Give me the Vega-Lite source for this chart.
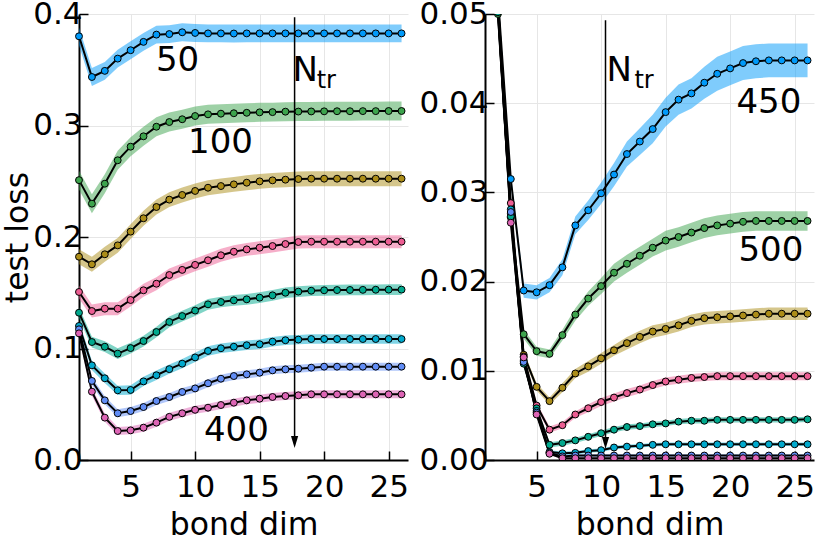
{
"$schema":"https://vega.github.io/schema/vega-lite/v6.json",
"background":"white",
"padding":{"left":2,"top":-2,"right":0,"bottom":0},
"spacing":9,
"config":{"view":{"stroke":null},"font":"DejaVu Sans",
"axis":{"domainColor":"black","domainWidth":2,"tickColor":"black","tickWidth":1.5,"tickSize":-9,"labelFontSize":31,"labelColor":"black","titleFontSize":31.5,"titleFontWeight":"normal","titleColor":"black","gridColor":"#e6e6e6","gridWidth":1,"labelFont":"DejaVu Sans","titleFont":"DejaVu Sans"},
"axisX":{"labelPadding":21,"titleY":49,"titleBaseline":"top"},
"axisY":{"labelPadding":6,"titleX":-45,"titleBaseline":"bottom","titleAngle":-90},
"text":{"font":"DejaVu Sans","color":"black"}},
"datasets":{
"curves":[
{"p":"L","n":50,"x":1,"y":0.380,"e":0.008},{"p":"L","n":50,"x":2,"y":0.3435,"e":0.008},{"p":"L","n":50,"x":3,"y":0.349,"e":0.008},{"p":"L","n":50,"x":4,"y":0.360,"e":0.008},{"p":"L","n":50,"x":5,"y":0.3675,"e":0.008},{"p":"L","n":50,"x":6,"y":0.375,"e":0.008},{"p":"L","n":50,"x":7,"y":0.3815,"e":0.008},{"p":"L","n":50,"x":8,"y":0.382,"e":0.008},{"p":"L","n":50,"x":9,"y":0.3836,"e":0.008},{"p":"L","n":50,"x":10,"y":0.383,"e":0.008},{"p":"L","n":50,"x":11,"y":0.3826,"e":0.008},{"p":"L","n":50,"x":12,"y":0.3826,"e":0.008},{"p":"L","n":50,"x":13,"y":0.3825,"e":0.008},{"p":"L","n":50,"x":14,"y":0.3826,"e":0.008},{"p":"L","n":50,"x":15,"y":0.3826,"e":0.008},{"p":"L","n":50,"x":16,"y":0.3826,"e":0.008},{"p":"L","n":50,"x":17,"y":0.3826,"e":0.008},{"p":"L","n":50,"x":18,"y":0.3826,"e":0.008},{"p":"L","n":50,"x":19,"y":0.3826,"e":0.008},{"p":"L","n":50,"x":20,"y":0.3826,"e":0.008},{"p":"L","n":50,"x":21,"y":0.3826,"e":0.008},{"p":"L","n":50,"x":22,"y":0.3826,"e":0.008},{"p":"L","n":50,"x":23,"y":0.3826,"e":0.008},{"p":"L","n":50,"x":24,"y":0.3826,"e":0.008},{"p":"L","n":50,"x":25,"y":0.3826,"e":0.008},{"p":"L","n":50,"x":26,"y":0.3826,"e":0.008},
{"p":"L","n":100,"x":1,"y":0.251,"e":0.0085},{"p":"L","n":100,"x":2,"y":0.2299,"e":0.0085},{"p":"L","n":100,"x":3,"y":0.2478,"e":0.0085},{"p":"L","n":100,"x":4,"y":0.2688,"e":0.0085},{"p":"L","n":100,"x":5,"y":0.281,"e":0.0085},{"p":"L","n":100,"x":6,"y":0.2903,"e":0.0085},{"p":"L","n":100,"x":7,"y":0.2989,"e":0.0085},{"p":"L","n":100,"x":8,"y":0.3031,"e":0.0085},{"p":"L","n":100,"x":9,"y":0.3056,"e":0.0085},{"p":"L","n":100,"x":10,"y":0.3085,"e":0.0085},{"p":"L","n":100,"x":11,"y":0.310,"e":0.0085},{"p":"L","n":100,"x":12,"y":0.3106,"e":0.0085},{"p":"L","n":100,"x":13,"y":0.311,"e":0.0085},{"p":"L","n":100,"x":14,"y":0.3114,"e":0.0085},{"p":"L","n":100,"x":15,"y":0.3118,"e":0.0085},{"p":"L","n":100,"x":16,"y":0.312,"e":0.0085},{"p":"L","n":100,"x":17,"y":0.3124,"e":0.0085},{"p":"L","n":100,"x":18,"y":0.3125,"e":0.0085},{"p":"L","n":100,"x":19,"y":0.3126,"e":0.0085},{"p":"L","n":100,"x":20,"y":0.3127,"e":0.0085},{"p":"L","n":100,"x":21,"y":0.3128,"e":0.0085},{"p":"L","n":100,"x":22,"y":0.3128,"e":0.0085},{"p":"L","n":100,"x":23,"y":0.3129,"e":0.0085},{"p":"L","n":100,"x":24,"y":0.3129,"e":0.0085},{"p":"L","n":100,"x":25,"y":0.313,"e":0.0085},{"p":"L","n":100,"x":26,"y":0.313,"e":0.0085},
{"p":"L","n":150,"x":1,"y":0.1823,"e":0.0067},{"p":"L","n":150,"x":2,"y":0.1755,"e":0.0067},{"p":"L","n":150,"x":3,"y":0.1845,"e":0.0067},{"p":"L","n":150,"x":4,"y":0.1925,"e":0.0067},{"p":"L","n":150,"x":5,"y":0.2048,"e":0.0067},{"p":"L","n":150,"x":6,"y":0.2168,"e":0.0067},{"p":"L","n":150,"x":7,"y":0.2269,"e":0.0067},{"p":"L","n":150,"x":8,"y":0.2335,"e":0.0067},{"p":"L","n":150,"x":9,"y":0.2377,"e":0.0067},{"p":"L","n":150,"x":10,"y":0.2413,"e":0.0067},{"p":"L","n":150,"x":11,"y":0.2442,"e":0.0067},{"p":"L","n":150,"x":12,"y":0.2457,"e":0.0067},{"p":"L","n":150,"x":13,"y":0.2472,"e":0.0067},{"p":"L","n":150,"x":14,"y":0.2487,"e":0.0067},{"p":"L","n":150,"x":15,"y":0.2499,"e":0.0067},{"p":"L","n":150,"x":16,"y":0.2508,"e":0.0067},{"p":"L","n":150,"x":17,"y":0.2514,"e":0.0067},{"p":"L","n":150,"x":18,"y":0.252,"e":0.0067},{"p":"L","n":150,"x":19,"y":0.2523,"e":0.0067},{"p":"L","n":150,"x":20,"y":0.2523,"e":0.0067},{"p":"L","n":150,"x":21,"y":0.2523,"e":0.0067},{"p":"L","n":150,"x":22,"y":0.2523,"e":0.0067},{"p":"L","n":150,"x":23,"y":0.2523,"e":0.0067},{"p":"L","n":150,"x":24,"y":0.2523,"e":0.0067},{"p":"L","n":150,"x":25,"y":0.2523,"e":0.0067},{"p":"L","n":150,"x":26,"y":0.2523,"e":0.0067},
{"p":"L","n":200,"x":1,"y":0.1507,"e":0.0058},{"p":"L","n":200,"x":2,"y":0.1336,"e":0.0058},{"p":"L","n":200,"x":3,"y":0.1357,"e":0.0058},{"p":"L","n":200,"x":4,"y":0.1357,"e":0.0058},{"p":"L","n":200,"x":5,"y":0.1435,"e":0.0058},{"p":"L","n":200,"x":6,"y":0.1522,"e":0.0058},{"p":"L","n":200,"x":7,"y":0.1581,"e":0.0058},{"p":"L","n":200,"x":8,"y":0.1659,"e":0.0058},{"p":"L","n":200,"x":9,"y":0.1705,"e":0.0058},{"p":"L","n":200,"x":10,"y":0.1750,"e":0.0058},{"p":"L","n":200,"x":11,"y":0.1791,"e":0.0058},{"p":"L","n":200,"x":12,"y":0.1836,"e":0.0058},{"p":"L","n":200,"x":13,"y":0.1868,"e":0.0058},{"p":"L","n":200,"x":14,"y":0.1889,"e":0.0058},{"p":"L","n":200,"x":15,"y":0.1904,"e":0.0058},{"p":"L","n":200,"x":16,"y":0.1919,"e":0.0058},{"p":"L","n":200,"x":17,"y":0.1937,"e":0.0058},{"p":"L","n":200,"x":18,"y":0.1955,"e":0.0058},{"p":"L","n":200,"x":19,"y":0.1958,"e":0.0058},{"p":"L","n":200,"x":20,"y":0.1958,"e":0.0058},{"p":"L","n":200,"x":21,"y":0.1958,"e":0.0058},{"p":"L","n":200,"x":22,"y":0.1958,"e":0.0058},{"p":"L","n":200,"x":23,"y":0.1958,"e":0.0058},{"p":"L","n":200,"x":24,"y":0.1958,"e":0.0058},{"p":"L","n":200,"x":25,"y":0.1958,"e":0.0058},{"p":"L","n":200,"x":26,"y":0.1958,"e":0.0058},
{"p":"L","n":250,"x":1,"y":0.1321,"e":0.0048},{"p":"L","n":250,"x":2,"y":0.1058,"e":0.0048},{"p":"L","n":250,"x":3,"y":0.1016,"e":0.0048},{"p":"L","n":250,"x":4,"y":0.0954,"e":0.0048},{"p":"L","n":250,"x":5,"y":0.1004,"e":0.0048},{"p":"L","n":250,"x":6,"y":0.1067,"e":0.0048},{"p":"L","n":250,"x":7,"y":0.1148,"e":0.0048},{"p":"L","n":250,"x":8,"y":0.1238,"e":0.0048},{"p":"L","n":250,"x":9,"y":0.1291,"e":0.0048},{"p":"L","n":250,"x":10,"y":0.1340,"e":0.0048},{"p":"L","n":250,"x":11,"y":0.1396,"e":0.0048},{"p":"L","n":250,"x":12,"y":0.1417,"e":0.0048},{"p":"L","n":250,"x":13,"y":0.1432,"e":0.0048},{"p":"L","n":250,"x":14,"y":0.1441,"e":0.0048},{"p":"L","n":250,"x":15,"y":0.1456,"e":0.0048},{"p":"L","n":250,"x":16,"y":0.1477,"e":0.0048},{"p":"L","n":250,"x":17,"y":0.1500,"e":0.0048},{"p":"L","n":250,"x":18,"y":0.1510,"e":0.0048},{"p":"L","n":250,"x":19,"y":0.1518,"e":0.0048},{"p":"L","n":250,"x":20,"y":0.1522,"e":0.0048},{"p":"L","n":250,"x":21,"y":0.1524,"e":0.0048},{"p":"L","n":250,"x":22,"y":0.1525,"e":0.0048},{"p":"L","n":250,"x":23,"y":0.1526,"e":0.0048},{"p":"L","n":250,"x":24,"y":0.1527,"e":0.0048},{"p":"L","n":250,"x":25,"y":0.1528,"e":0.0048},{"p":"L","n":250,"x":26,"y":0.1528,"e":0.0048},
{"p":"L","n":300,"x":1,"y":0.1202,"e":0.0042},{"p":"L","n":300,"x":2,"y":0.0849,"e":0.0042},{"p":"L","n":300,"x":3,"y":0.0733,"e":0.0042},{"p":"L","n":300,"x":4,"y":0.0625,"e":0.0042},{"p":"L","n":300,"x":5,"y":0.0628,"e":0.0042},{"p":"L","n":300,"x":6,"y":0.0705,"e":0.0042},{"p":"L","n":300,"x":7,"y":0.0760,"e":0.0042},{"p":"L","n":300,"x":8,"y":0.0815,"e":0.0042},{"p":"L","n":300,"x":9,"y":0.0864,"e":0.0042},{"p":"L","n":300,"x":10,"y":0.0920,"e":0.0042},{"p":"L","n":300,"x":11,"y":0.0978,"e":0.0042},{"p":"L","n":300,"x":12,"y":0.1002,"e":0.0042},{"p":"L","n":300,"x":13,"y":0.1016,"e":0.0042},{"p":"L","n":300,"x":14,"y":0.1029,"e":0.0042},{"p":"L","n":300,"x":15,"y":0.1038,"e":0.0042},{"p":"L","n":300,"x":16,"y":0.1061,"e":0.0042},{"p":"L","n":300,"x":17,"y":0.1074,"e":0.0042},{"p":"L","n":300,"x":18,"y":0.1080,"e":0.0042},{"p":"L","n":300,"x":19,"y":0.1085,"e":0.0042},{"p":"L","n":300,"x":20,"y":0.1085,"e":0.0042},{"p":"L","n":300,"x":21,"y":0.1085,"e":0.0042},{"p":"L","n":300,"x":22,"y":0.1085,"e":0.0042},{"p":"L","n":300,"x":23,"y":0.1085,"e":0.0042},{"p":"L","n":300,"x":24,"y":0.1085,"e":0.0042},{"p":"L","n":300,"x":25,"y":0.1085,"e":0.0042},{"p":"L","n":300,"x":26,"y":0.1085,"e":0.0042},
{"p":"L","n":350,"x":1,"y":0.1172,"e":0.0036},{"p":"L","n":350,"x":2,"y":0.0709,"e":0.0036},{"p":"L","n":350,"x":3,"y":0.0535,"e":0.0036},{"p":"L","n":350,"x":4,"y":0.0419,"e":0.0036},{"p":"L","n":350,"x":5,"y":0.0439,"e":0.0036},{"p":"L","n":350,"x":6,"y":0.0475,"e":0.0036},{"p":"L","n":350,"x":7,"y":0.0529,"e":0.0036},{"p":"L","n":350,"x":8,"y":0.0565,"e":0.0036},{"p":"L","n":350,"x":9,"y":0.0610,"e":0.0036},{"p":"L","n":350,"x":10,"y":0.0642,"e":0.0036},{"p":"L","n":350,"x":11,"y":0.0688,"e":0.0036},{"p":"L","n":350,"x":12,"y":0.0729,"e":0.0036},{"p":"L","n":350,"x":13,"y":0.0753,"e":0.0036},{"p":"L","n":350,"x":14,"y":0.0768,"e":0.0036},{"p":"L","n":350,"x":15,"y":0.0783,"e":0.0036},{"p":"L","n":350,"x":16,"y":0.0804,"e":0.0036},{"p":"L","n":350,"x":17,"y":0.0813,"e":0.0036},{"p":"L","n":350,"x":18,"y":0.0819,"e":0.0036},{"p":"L","n":350,"x":19,"y":0.0828,"e":0.0036},{"p":"L","n":350,"x":20,"y":0.0837,"e":0.0036},{"p":"L","n":350,"x":21,"y":0.0837,"e":0.0036},{"p":"L","n":350,"x":22,"y":0.0837,"e":0.0036},{"p":"L","n":350,"x":23,"y":0.0837,"e":0.0036},{"p":"L","n":350,"x":24,"y":0.0837,"e":0.0036},{"p":"L","n":350,"x":25,"y":0.0837,"e":0.0036},{"p":"L","n":350,"x":26,"y":0.0837,"e":0.0036},
{"p":"L","n":400,"x":1,"y":0.1136,"e":0.0036},{"p":"L","n":400,"x":2,"y":0.0613,"e":0.0036},{"p":"L","n":400,"x":3,"y":0.0380,"e":0.0036},{"p":"L","n":400,"x":4,"y":0.0260,"e":0.0036},{"p":"L","n":400,"x":5,"y":0.0266,"e":0.0036},{"p":"L","n":400,"x":6,"y":0.0290,"e":0.0036},{"p":"L","n":400,"x":7,"y":0.0335,"e":0.0036},{"p":"L","n":400,"x":8,"y":0.0387,"e":0.0036},{"p":"L","n":400,"x":9,"y":0.0419,"e":0.0036},{"p":"L","n":400,"x":10,"y":0.0450,"e":0.0036},{"p":"L","n":400,"x":11,"y":0.0469,"e":0.0036},{"p":"L","n":400,"x":12,"y":0.0493,"e":0.0036},{"p":"L","n":400,"x":13,"y":0.0514,"e":0.0036},{"p":"L","n":400,"x":14,"y":0.0535,"e":0.0036},{"p":"L","n":400,"x":15,"y":0.0550,"e":0.0036},{"p":"L","n":400,"x":16,"y":0.0565,"e":0.0036},{"p":"L","n":400,"x":17,"y":0.0574,"e":0.0036},{"p":"L","n":400,"x":18,"y":0.0580,"e":0.0036},{"p":"L","n":400,"x":19,"y":0.0589,"e":0.0036},{"p":"L","n":400,"x":20,"y":0.0589,"e":0.0036},{"p":"L","n":400,"x":21,"y":0.0589,"e":0.0036},{"p":"L","n":400,"x":22,"y":0.0589,"e":0.0036},{"p":"L","n":400,"x":23,"y":0.0589,"e":0.0036},{"p":"L","n":400,"x":24,"y":0.0589,"e":0.0036},{"p":"L","n":400,"x":25,"y":0.0589,"e":0.0036},{"p":"L","n":400,"x":26,"y":0.0589,"e":0.0036},
{"p":"R","n":450,"x":1,"y":0.09,"e":0.0006},{"p":"R","n":450,"x":2,"y":0.052,"e":0.0006},{"p":"R","n":450,"x":3,"y":0.0315,"e":0.0006},{"p":"R","n":450,"x":4,"y":0.0190,"e":0.0008},{"p":"R","n":450,"x":5,"y":0.0188,"e":0.0008},{"p":"R","n":450,"x":6,"y":0.0196,"e":0.0008},{"p":"R","n":450,"x":7,"y":0.0216,"e":0.0009},{"p":"R","n":450,"x":8,"y":0.0263,"e":0.001},{"p":"R","n":450,"x":9,"y":0.0280,"e":0.0011},{"p":"R","n":450,"x":10,"y":0.0299,"e":0.0012},{"p":"R","n":450,"x":11,"y":0.0320,"e":0.0013},{"p":"R","n":450,"x":12,"y":0.0343,"e":0.0014},{"p":"R","n":450,"x":13,"y":0.0357,"e":0.0015},{"p":"R","n":450,"x":14,"y":0.0371,"e":0.0016},{"p":"R","n":450,"x":15,"y":0.0390,"e":0.0016},{"p":"R","n":450,"x":16,"y":0.0404,"e":0.0017},{"p":"R","n":450,"x":17,"y":0.0411,"e":0.0017},{"p":"R","n":450,"x":18,"y":0.0423,"e":0.0018},{"p":"R","n":450,"x":19,"y":0.0433,"e":0.0019},{"p":"R","n":450,"x":20,"y":0.0439,"e":0.0019},{"p":"R","n":450,"x":21,"y":0.0445,"e":0.0019},{"p":"R","n":450,"x":22,"y":0.0447,"e":0.0019},{"p":"R","n":450,"x":23,"y":0.0448,"e":0.0019},{"p":"R","n":450,"x":24,"y":0.0448,"e":0.0019},{"p":"R","n":450,"x":25,"y":0.0448,"e":0.0019},{"p":"R","n":450,"x":26,"y":0.0448,"e":0.0019},
{"p":"R","n":500,"x":1,"y":0.09,"e":0.0005},{"p":"R","n":500,"x":2,"y":0.0500,"e":0.0005},{"p":"R","n":500,"x":3,"y":0.0272,"e":0.0005},{"p":"R","n":500,"x":4,"y":0.0141,"e":0.0005},{"p":"R","n":500,"x":5,"y":0.0122,"e":0.0005},{"p":"R","n":500,"x":6,"y":0.0119,"e":0.0005},{"p":"R","n":500,"x":7,"y":0.0140,"e":0.0006},{"p":"R","n":500,"x":8,"y":0.0163,"e":0.0007},{"p":"R","n":500,"x":9,"y":0.0181,"e":0.0008},{"p":"R","n":500,"x":10,"y":0.0195,"e":0.0009},{"p":"R","n":500,"x":11,"y":0.0210,"e":0.001},{"p":"R","n":500,"x":12,"y":0.0220,"e":0.001},{"p":"R","n":500,"x":13,"y":0.0229,"e":0.001},{"p":"R","n":500,"x":14,"y":0.0238,"e":0.001},{"p":"R","n":500,"x":15,"y":0.0246,"e":0.0011},{"p":"R","n":500,"x":16,"y":0.0250,"e":0.0011},{"p":"R","n":500,"x":17,"y":0.0255,"e":0.0011},{"p":"R","n":500,"x":18,"y":0.0260,"e":0.0011},{"p":"R","n":500,"x":19,"y":0.0263,"e":0.0011},{"p":"R","n":500,"x":20,"y":0.0265,"e":0.0011},{"p":"R","n":500,"x":21,"y":0.0267,"e":0.0011},{"p":"R","n":500,"x":22,"y":0.0268,"e":0.0011},{"p":"R","n":500,"x":23,"y":0.0268,"e":0.0011},{"p":"R","n":500,"x":24,"y":0.0268,"e":0.0011},{"p":"R","n":500,"x":25,"y":0.0268,"e":0.0011},{"p":"R","n":500,"x":26,"y":0.0268,"e":0.0011},
{"p":"R","n":550,"x":1,"y":0.09,"e":0.0004},{"p":"R","n":550,"x":2,"y":0.0508,"e":0.0004},{"p":"R","n":550,"x":3,"y":0.0276,"e":0.0004},{"p":"R","n":550,"x":4,"y":0.0118,"e":0.0004},{"p":"R","n":550,"x":5,"y":0.0082,"e":0.0004},{"p":"R","n":550,"x":6,"y":0.0066,"e":0.0004},{"p":"R","n":550,"x":7,"y":0.0081,"e":0.0005},{"p":"R","n":550,"x":8,"y":0.0097,"e":0.0005},{"p":"R","n":550,"x":9,"y":0.0105,"e":0.0006},{"p":"R","n":550,"x":10,"y":0.0114,"e":0.0006},{"p":"R","n":550,"x":11,"y":0.0123,"e":0.0006},{"p":"R","n":550,"x":12,"y":0.0131,"e":0.0007},{"p":"R","n":550,"x":13,"y":0.0138,"e":0.0007},{"p":"R","n":550,"x":14,"y":0.0144,"e":0.0007},{"p":"R","n":550,"x":15,"y":0.0147,"e":0.0007},{"p":"R","n":550,"x":16,"y":0.0151,"e":0.0007},{"p":"R","n":550,"x":17,"y":0.0156,"e":0.0007},{"p":"R","n":550,"x":18,"y":0.0159,"e":0.0007},{"p":"R","n":550,"x":19,"y":0.0160,"e":0.0007},{"p":"R","n":550,"x":20,"y":0.0161,"e":0.0007},{"p":"R","n":550,"x":21,"y":0.0162,"e":0.0007},{"p":"R","n":550,"x":22,"y":0.0163,"e":0.0007},{"p":"R","n":550,"x":23,"y":0.0164,"e":0.0007},{"p":"R","n":550,"x":24,"y":0.0164,"e":0.0007},{"p":"R","n":550,"x":25,"y":0.0164,"e":0.0007},{"p":"R","n":550,"x":26,"y":0.0164,"e":0.0007},
{"p":"R","n":600,"x":1,"y":0.09,"e":0.00035},{"p":"R","n":600,"x":2,"y":0.0512,"e":0.00035},{"p":"R","n":600,"x":3,"y":0.0288,"e":0.00035},{"p":"R","n":600,"x":4,"y":0.0116,"e":0.00035},{"p":"R","n":600,"x":5,"y":0.0061,"e":0.00035},{"p":"R","n":600,"x":6,"y":0.0034,"e":0.00035},{"p":"R","n":600,"x":7,"y":0.0039,"e":0.00035},{"p":"R","n":600,"x":8,"y":0.0051,"e":0.00035},{"p":"R","n":600,"x":9,"y":0.0058,"e":0.00045},{"p":"R","n":600,"x":10,"y":0.0065,"e":0.00045},{"p":"R","n":600,"x":11,"y":0.0070,"e":0.00045},{"p":"R","n":600,"x":12,"y":0.0075,"e":0.00045},{"p":"R","n":600,"x":13,"y":0.0079,"e":0.00045},{"p":"R","n":600,"x":14,"y":0.0084,"e":0.00045},{"p":"R","n":600,"x":15,"y":0.0088,"e":0.00045},{"p":"R","n":600,"x":16,"y":0.0090,"e":0.00045},{"p":"R","n":600,"x":17,"y":0.0092,"e":0.00045},{"p":"R","n":600,"x":18,"y":0.0093,"e":0.00045},{"p":"R","n":600,"x":19,"y":0.0094,"e":0.00045},{"p":"R","n":600,"x":20,"y":0.0094,"e":0.00045},{"p":"R","n":600,"x":21,"y":0.0094,"e":0.00045},{"p":"R","n":600,"x":22,"y":0.0094,"e":0.00045},{"p":"R","n":600,"x":23,"y":0.0094,"e":0.00045},{"p":"R","n":600,"x":24,"y":0.0094,"e":0.00045},{"p":"R","n":600,"x":25,"y":0.0094,"e":0.00045},{"p":"R","n":600,"x":26,"y":0.0094,"e":0.00045},
{"p":"R","n":650,"x":1,"y":0.09,"e":0.0003},{"p":"R","n":650,"x":2,"y":0.0502,"e":0.0003},{"p":"R","n":650,"x":3,"y":0.0273,"e":0.0003},{"p":"R","n":650,"x":4,"y":0.0108,"e":0.0003},{"p":"R","n":650,"x":5,"y":0.0058,"e":0.0003},{"p":"R","n":650,"x":6,"y":0.0017,"e":0.0003},{"p":"R","n":650,"x":7,"y":0.0019,"e":0.0003},{"p":"R","n":650,"x":8,"y":0.0022,"e":0.0003},{"p":"R","n":650,"x":9,"y":0.0026,"e":0.0003},{"p":"R","n":650,"x":10,"y":0.0030,"e":0.0003},{"p":"R","n":650,"x":11,"y":0.0034,"e":0.0003},{"p":"R","n":650,"x":12,"y":0.0037,"e":0.0003},{"p":"R","n":650,"x":13,"y":0.0038,"e":0.0003},{"p":"R","n":650,"x":14,"y":0.0040,"e":0.0003},{"p":"R","n":650,"x":15,"y":0.0041,"e":0.0003},{"p":"R","n":650,"x":16,"y":0.0043,"e":0.0003},{"p":"R","n":650,"x":17,"y":0.0044,"e":0.0003},{"p":"R","n":650,"x":18,"y":0.0044,"e":0.0003},{"p":"R","n":650,"x":19,"y":0.0045,"e":0.0003},{"p":"R","n":650,"x":20,"y":0.0045,"e":0.0003},{"p":"R","n":650,"x":21,"y":0.0045,"e":0.0003},{"p":"R","n":650,"x":22,"y":0.0045,"e":0.0003},{"p":"R","n":650,"x":23,"y":0.0045,"e":0.0003},{"p":"R","n":650,"x":24,"y":0.0045,"e":0.0003},{"p":"R","n":650,"x":25,"y":0.0045,"e":0.0003},{"p":"R","n":650,"x":26,"y":0.00456,"e":0.0003},
{"p":"R","n":700,"x":1,"y":0.09,"e":0.0002},{"p":"R","n":700,"x":2,"y":0.0515,"e":0.0002},{"p":"R","n":700,"x":3,"y":0.0281,"e":0.0002},{"p":"R","n":700,"x":4,"y":0.0112,"e":0.0002},{"p":"R","n":700,"x":5,"y":0.0055,"e":0.0002},{"p":"R","n":700,"x":6,"y":0.0009,"e":0.0002},{"p":"R","n":700,"x":7,"y":0.00075,"e":0.0002},{"p":"R","n":700,"x":8,"y":0.0008,"e":0.0002},{"p":"R","n":700,"x":9,"y":0.0010,"e":0.0002},{"p":"R","n":700,"x":10,"y":0.0011,"e":0.0002},{"p":"R","n":700,"x":11,"y":0.0014,"e":0.0002},{"p":"R","n":700,"x":12,"y":0.0015,"e":0.0002},{"p":"R","n":700,"x":13,"y":0.0016,"e":0.0002},{"p":"R","n":700,"x":14,"y":0.0017,"e":0.0002},{"p":"R","n":700,"x":15,"y":0.00176,"e":0.0002},{"p":"R","n":700,"x":16,"y":0.00176,"e":0.0002},{"p":"R","n":700,"x":17,"y":0.00176,"e":0.0002},{"p":"R","n":700,"x":18,"y":0.00176,"e":0.0002},{"p":"R","n":700,"x":19,"y":0.00176,"e":0.0002},{"p":"R","n":700,"x":20,"y":0.00176,"e":0.0002},{"p":"R","n":700,"x":21,"y":0.00176,"e":0.0002},{"p":"R","n":700,"x":22,"y":0.00176,"e":0.0002},{"p":"R","n":700,"x":23,"y":0.00176,"e":0.0002},{"p":"R","n":700,"x":24,"y":0.00176,"e":0.0002},{"p":"R","n":700,"x":25,"y":0.00176,"e":0.0002},{"p":"R","n":700,"x":26,"y":0.00176,"e":0.0002},
{"p":"R","n":750,"x":1,"y":0.09,"e":0.00015},{"p":"R","n":750,"x":2,"y":0.0505,"e":0.00015},{"p":"R","n":750,"x":3,"y":0.0278,"e":0.00015},{"p":"R","n":750,"x":4,"y":0.0110,"e":0.00015},{"p":"R","n":750,"x":5,"y":0.0053,"e":0.00015},{"p":"R","n":750,"x":6,"y":0.0008,"e":0.00015},{"p":"R","n":750,"x":7,"y":0.0004,"e":0.00015},{"p":"R","n":750,"x":8,"y":0.0005,"e":0.00015},{"p":"R","n":750,"x":9,"y":0.0005,"e":0.00015},{"p":"R","n":750,"x":10,"y":0.0005,"e":0.00015},{"p":"R","n":750,"x":11,"y":0.0005,"e":0.00015},{"p":"R","n":750,"x":12,"y":0.0005,"e":0.00015},{"p":"R","n":750,"x":13,"y":0.0005,"e":0.00015},{"p":"R","n":750,"x":14,"y":0.0005,"e":0.00015},{"p":"R","n":750,"x":15,"y":0.0005,"e":0.00015},{"p":"R","n":750,"x":16,"y":0.0005,"e":0.00015},{"p":"R","n":750,"x":17,"y":0.0005,"e":0.00015},{"p":"R","n":750,"x":18,"y":0.0005,"e":0.00015},{"p":"R","n":750,"x":19,"y":0.0005,"e":0.00015},{"p":"R","n":750,"x":20,"y":0.0005,"e":0.00015},{"p":"R","n":750,"x":21,"y":0.0005,"e":0.00015},{"p":"R","n":750,"x":22,"y":0.0005,"e":0.00015},{"p":"R","n":750,"x":23,"y":0.0005,"e":0.00015},{"p":"R","n":750,"x":24,"y":0.0005,"e":0.00015},{"p":"R","n":750,"x":25,"y":0.0005,"e":0.00015},{"p":"R","n":750,"x":26,"y":0.0005,"e":0.00015},
{"p":"R","n":800,"x":1,"y":0.09,"e":0.00012},{"p":"R","n":800,"x":2,"y":0.0510,"e":0.00012},{"p":"R","n":800,"x":3,"y":0.0266,"e":0.00012},{"p":"R","n":800,"x":4,"y":0.0115,"e":0.00012},{"p":"R","n":800,"x":5,"y":0.0051,"e":0.00012},{"p":"R","n":800,"x":6,"y":0.0007,"e":0.00012},{"p":"R","n":800,"x":7,"y":0.0002,"e":0.00012},{"p":"R","n":800,"x":8,"y":0.0002,"e":0.00012},{"p":"R","n":800,"x":9,"y":0.0002,"e":0.00012},{"p":"R","n":800,"x":10,"y":0.0002,"e":0.00012},{"p":"R","n":800,"x":11,"y":0.0002,"e":0.00012},{"p":"R","n":800,"x":12,"y":0.0002,"e":0.00012},{"p":"R","n":800,"x":13,"y":0.0002,"e":0.00012},{"p":"R","n":800,"x":14,"y":0.0002,"e":0.00012},{"p":"R","n":800,"x":15,"y":0.0002,"e":0.00012},{"p":"R","n":800,"x":16,"y":0.0002,"e":0.00012},{"p":"R","n":800,"x":17,"y":0.0002,"e":0.00012},{"p":"R","n":800,"x":18,"y":0.0002,"e":0.00012},{"p":"R","n":800,"x":19,"y":0.0002,"e":0.00012},{"p":"R","n":800,"x":20,"y":0.0002,"e":0.00012},{"p":"R","n":800,"x":21,"y":0.0002,"e":0.00012},{"p":"R","n":800,"x":22,"y":0.0002,"e":0.00012},{"p":"R","n":800,"x":23,"y":0.0002,"e":0.00012},{"p":"R","n":800,"x":24,"y":0.0002,"e":0.00012},{"p":"R","n":800,"x":25,"y":0.0002,"e":0.00012},{"p":"R","n":800,"x":26,"y":0.0002,"e":0.00012}
],
"labels":[{"p":"L","x":8.64,"y":0.3489,"t":"50"},{"p":"L","x":11.97,"y":0.2753,"t":"100"},{"p":"L","x":13.2,"y":0.017,"t":"400"},{"p":"R","x":23.0,"y":0.0389,"t":"450"},{"p":"R","x":23.16,"y":0.0223,"t":"500"}],
"ntrN":[{"p":"L","x":17.55,"y":0.340,"t":"N"},{"p":"R","x":10.42,"y":0.0425,"t":"N"}],
"ntrSub":[{"p":"L","x":19.42,"y":0.3336,"t":"tr"},{"p":"R","x":12.58,"y":0.0417,"t":"tr"}],
"arrows":[{"p":"L","x":17.71,"y":0.397,"y2":0.0161},{"p":"R","x":10.34,"y":0.0493,"y2":0.0019}],
"tips":[{"p":"L","x":17.71,"y":0.0161},{"p":"R","x":10.34,"y":0.0019}]
},
"hconcat":[
{"width":329,"height":446,
"encoding":{
"x":{"field":"x","type":"quantitative","scale":{"domain":[1,26.5],"nice":false,"zero":false},"axis":{"values":[5,10,15,20,25],"title":"bond dim"}},
"y":{"field":"y","type":"quantitative","scale":{"domain":[0,0.4],"nice":false},"axis":{"values":[0,0.1,0.2,0.3,0.4],"format":".1f","title":"test loss"}}},
"layer":[
{"data":{"name":"curves"},"transform":[{"filter":"datum.p=='L'"}],"mark":{"type":"errorband","band":{"opacity":0.5}},"encoding":{"yError":{"field":"e"},"color":{"field":"n","type":"nominal","legend":null,"scale":{"domain":[50,100,150,200,250,300,350,400,450,500,550,600,650,700,750,800],"range":["#009afa","#3da44d","#ac8d18","#ed5e93","#00a98d","#00a9cd","#618df6","#dd64b5","#009afa","#3da44d","#ac8d18","#ed5e93","#00a98d","#00a9cd","#618df6","#dd64b5"]}}}},
{"data":{"name":"curves"},"transform":[{"filter":"datum.p=='L'"}],"mark":{"type":"line","color":"black","strokeWidth":2},"encoding":{"detail":{"field":"n","type":"nominal"}}},
{"data":{"name":"curves"},"transform":[{"filter":"datum.p=='L'"}],"mark":{"type":"point","filled":true,"stroke":"black","strokeWidth":1,"size":48,"opacity":1},"encoding":{"fill":{"field":"n","type":"nominal","legend":null,"scale":{"domain":[50,100,150,200,250,300,350,400,450,500,550,600,650,700,750,800],"range":["#009afa","#3da44d","#ac8d18","#ed5e93","#00a98d","#00a9cd","#618df6","#dd64b5","#009afa","#3da44d","#ac8d18","#ed5e93","#00a98d","#00a9cd","#618df6","#dd64b5"]}}}},
{"data":{"name":"arrows"},"transform":[{"filter":"datum.p=='L'"}],"mark":{"type":"rule","color":"black","strokeWidth":1.5},"encoding":{"y2":{"field":"y2"}}},
{"data":{"name":"tips"},"transform":[{"filter":"datum.p=='L'"}],"mark":{"type":"point","shape":"M -0.6 -1 L 0.6 -1 L 0 1 Z","filled":true,"color":"black","size":144,"opacity":1},"encoding":{}},
{"data":{"name":"labels"},"transform":[{"filter":"datum.p=='L'"}],"mark":{"type":"text","fontSize":34,"align":"center","baseline":"alphabetic"},"encoding":{"text":{"field":"t"}}},
{"data":{"name":"ntrN"},"transform":[{"filter":"datum.p=='L'"}],"mark":{"type":"text","fontSize":34,"align":"left","baseline":"alphabetic"},"encoding":{"text":{"field":"t"}}},
{"data":{"name":"ntrSub"},"transform":[{"filter":"datum.p=='L'"}],"mark":{"type":"text","fontSize":24,"align":"left","baseline":"alphabetic"},"encoding":{"text":{"field":"t"}}}
]},
{"width":329,"height":446,
"encoding":{
"x":{"field":"x","type":"quantitative","scale":{"domain":[1,26.5],"nice":false,"zero":false},"axis":{"values":[5,10,15,20,25],"title":"bond dim"}},
"y":{"field":"y","type":"quantitative","scale":{"domain":[0,0.05],"nice":false},"axis":{"values":[0,0.01,0.02,0.03,0.04,0.05],"format":".2f","title":null}}},
"layer":[
{"data":{"name":"curves"},"transform":[{"filter":"datum.p=='R'"}],"mark":{"type":"errorband","band":{"opacity":0.5},"clip":true},"encoding":{"yError":{"field":"e"},"color":{"field":"n","type":"nominal","legend":null,"scale":{"domain":[50,100,150,200,250,300,350,400,450,500,550,600,650,700,750,800],"range":["#009afa","#3da44d","#ac8d18","#ed5e93","#00a98d","#00a9cd","#618df6","#dd64b5","#009afa","#3da44d","#ac8d18","#ed5e93","#00a98d","#00a9cd","#618df6","#dd64b5"]}}}},
{"data":{"name":"curves"},"transform":[{"filter":"datum.p=='R'"}],"mark":{"type":"line","color":"black","strokeWidth":2,"clip":true},"encoding":{"detail":{"field":"n","type":"nominal"}}},
{"data":{"name":"curves"},"transform":[{"filter":"datum.p=='R'"}],"mark":{"type":"point","filled":true,"stroke":"black","strokeWidth":1,"size":48,"opacity":1,"clip":true},"encoding":{"fill":{"field":"n","type":"nominal","legend":null,"scale":{"domain":[50,100,150,200,250,300,350,400,450,500,550,600,650,700,750,800],"range":["#009afa","#3da44d","#ac8d18","#ed5e93","#00a98d","#00a9cd","#618df6","#dd64b5","#009afa","#3da44d","#ac8d18","#ed5e93","#00a98d","#00a9cd","#618df6","#dd64b5"]}}}},
{"data":{"name":"arrows"},"transform":[{"filter":"datum.p=='R'"}],"mark":{"type":"rule","color":"black","strokeWidth":1.5},"encoding":{"y2":{"field":"y2"}}},
{"data":{"name":"tips"},"transform":[{"filter":"datum.p=='R'"}],"mark":{"type":"point","shape":"M -0.6 -1 L 0.6 -1 L 0 1 Z","filled":true,"color":"black","size":144,"opacity":1},"encoding":{}},
{"data":{"name":"labels"},"transform":[{"filter":"datum.p=='R'"}],"mark":{"type":"text","fontSize":34,"align":"center","baseline":"alphabetic"},"encoding":{"text":{"field":"t"}}},
{"data":{"name":"ntrN"},"transform":[{"filter":"datum.p=='R'"}],"mark":{"type":"text","fontSize":34,"align":"left","baseline":"alphabetic"},"encoding":{"text":{"field":"t"}}},
{"data":{"name":"ntrSub"},"transform":[{"filter":"datum.p=='R'"}],"mark":{"type":"text","fontSize":24,"align":"left","baseline":"alphabetic"},"encoding":{"text":{"field":"t"}}}
]}
]
}
